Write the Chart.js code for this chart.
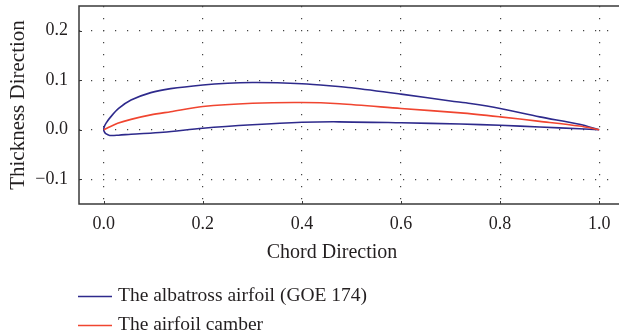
<!DOCTYPE html>
<html>
<head>
<meta charset="utf-8">
<script src="https://cdn.jsdelivr.net/npm/chart.js@4/dist/chart.umd.min.js"></script>
<style>
  html, body { margin: 0; padding: 0; background: #ffffff; }
  #wrap { width: 619px; height: 336px; }
</style>
</head>
<body>
<div id="wrap"><canvas id="c" width="619" height="336"></canvas></div>
<script>
// ---- data ----
const seriesLabels = ["The albatross airfoil (GOE 174)", "The airfoil camber"];
const xTitle = "Chord Direction";
const yTitle = "Thickness Direction";

// upper surface, trailing edge -> leading edge
const upperX = [1.0, 0.96, 0.88, 0.8, 0.74, 0.7, 0.6, 0.5, 0.455, 0.4, 0.35, 0.3, 0.25, 0.2, 0.135, 0.095, 0.055, 0.03, 0.014, 0.005, 0.001, 0.0];
const upperY = [0.0, 0.011, 0.026, 0.043, 0.053, 0.058, 0.072, 0.085, 0.089, 0.093, 0.095, 0.0955, 0.094, 0.0905, 0.083, 0.075, 0.060, 0.043, 0.026, 0.014, 0.006, 0.0];

// lower surface, leading edge -> trailing edge
const lowerX = [0.001, 0.004, 0.012, 0.03, 0.055, 0.12, 0.2, 0.3, 0.4, 0.475, 0.6, 0.72, 0.8, 0.88, 0.96, 1.0];
const lowerY = [-0.004, -0.008, -0.0115, -0.011, -0.009, -0.005, 0.003, 0.010, 0.015, 0.016, 0.014, 0.0115, 0.009, 0.0055, 0.002, 0.0];

// camber line
const camberX = [0.0, 0.01, 0.028, 0.055, 0.095, 0.135, 0.2, 0.3, 0.4, 0.476, 0.6, 0.72, 0.8, 0.88, 0.96, 1.0];
const camberY = [0.0, 0.005, 0.013, 0.021, 0.030, 0.0365, 0.047, 0.0535, 0.055, 0.0525, 0.043, 0.034, 0.026, 0.017, 0.0075, 0.0];

// axis ticks
const xTicks = [0.0, 0.2, 0.4, 0.6, 0.8, 1.0];
const yTicks = [-0.1, 0.0, 0.1, 0.2];

// ---- build ----
const toPts = (xs, ys) => xs.map((x, i) => ({ x: x, y: ys[i] }));
const airfoilPts = toPts(upperX, upperY).concat(toPts(lowerX, lowerY));
const camberPts = toPts(camberX, camberY);

const FONT = "'Liberation Serif', 'Times New Roman', serif";
const TXT = '#231f20';
const BLUE = '#2e2a8c';
const RED = '#f04530';

const framePlugin = {
  id: 'frame',
  afterDatasetsDraw(chart) {
    const { ctx, chartArea: a, scales } = chart;
    ctx.save();
    ctx.strokeStyle = '#3a3a3a';
    ctx.lineWidth = 1.5;
    ctx.beginPath();
    ctx.moveTo(a.right + 2, a.top);
    ctx.lineTo(a.left, a.top);
    ctx.lineTo(a.left, a.bottom);
    ctx.lineTo(a.right + 2, a.bottom);
    ctx.stroke();
    // small inward tick marks
    ctx.lineWidth = 1;
    ctx.beginPath();
    xTicks.forEach(v => {
      const px = Math.round(scales.x.getPixelForValue(v)) + 0.5;
      ctx.moveTo(px, a.bottom);
      ctx.lineTo(px, a.bottom - 3);
    });
    yTicks.forEach(v => {
      const py = Math.round(scales.y.getPixelForValue(v)) + 0.5;
      ctx.moveTo(a.left, py);
      ctx.lineTo(a.left + 3, py);
    });
    ctx.stroke();
    ctx.restore();
  }
};

const textPlugin = {
  id: 'texts',
  afterDraw(chart) {
    const { ctx } = chart;
    ctx.save();
    // x-axis title
    ctx.font = "20px " + FONT;
    ctx.fillStyle = TXT;
    ctx.textAlign = 'center';
    ctx.textBaseline = 'middle';
    ctx.fillText(xTitle, 332, 253);
    // stacked legend
    const rows = [296, 325];
    ctx.font = "19.5px " + FONT;
    ctx.textAlign = 'left';
    chart.data.datasets.forEach((ds, i) => {
      const y = rows[i];
      ctx.strokeStyle = ds.borderColor;
      ctx.lineWidth = 1.5;
      ctx.beginPath();
      ctx.moveTo(78, y + 0.5);
      ctx.lineTo(112, y + 0.5);
      ctx.stroke();
      ctx.fillStyle = TXT;
      ctx.fillText(ds.label, 118, y);
    });
    ctx.restore();
  }
};

new Chart(document.getElementById('c'), {
  type: 'scatter',
  data: {
    datasets: [
      {
        label: seriesLabels[0],
        data: airfoilPts,
        showLine: true,
        borderColor: BLUE,
        borderWidth: 1.6,
        pointRadius: 0,
        tension: 0.3,
        fill: false,
        order: 2
      },
      {
        label: seriesLabels[1],
        data: camberPts,
        showLine: true,
        borderColor: RED,
        borderWidth: 1.6,
        pointRadius: 0,
        tension: 0.3,
        fill: false,
        order: 1
      }
    ]
  },
  options: {
    responsive: false,
    devicePixelRatio: 1,
    animation: false,
    layout: { padding: { left: 0, right: 0, top: 6, bottom: 71 } },
    plugins: {
      legend: { display: false },
      tooltip: { enabled: false }
    },
    scales: {
      x: {
        type: 'linear',
        min: -0.05,
        max: 1.04,
        afterBuildTicks(scale) { scale.ticks = xTicks.map(v => ({ value: v })); },
        afterFit(scale) { scale.height = 61; scale.paddingLeft = 0; scale.paddingRight = 0; },
        ticks: {
          padding: 9,
          color: TXT,
          font: { family: FONT, size: 18 },
          maxRotation: 0,
          callback: v => Number(v).toFixed(1)
        },
        grid: {
          drawTicks: false,
          color: '#444',
          lineWidth: 1.2
        },
        border: { display: false, dash: [1.2, 10.8] },
        title: { display: false }
      },
      y: {
        type: 'linear',
        min: -0.15,
        max: 0.25,
        afterBuildTicks(scale) { scale.ticks = yTicks.map(v => ({ value: v })); },
        afterFit(scale) { scale.width = 79; scale.paddingTop = 0; scale.paddingBottom = 0; },
        ticks: {
          padding: 11,
          color: TXT,
          font: { family: FONT, size: 18 },
          callback: v => {
            const s = Math.abs(v).toFixed(1);
            return v < -1e-9 ? '\u2212' + s : s;
          }
        },
        grid: {
          drawTicks: false,
          color: '#444',
          lineWidth: 1.2
        },
        border: { display: false, dash: [1.2, 10.8] },
        title: {
          display: true,
          text: yTitle,
          color: TXT,
          font: { family: FONT, size: 21 },
          padding: { top: 6, bottom: 0 }
        }
      }
    }
  },
  plugins: [framePlugin, textPlugin]
});
</script>
</body>
</html>
